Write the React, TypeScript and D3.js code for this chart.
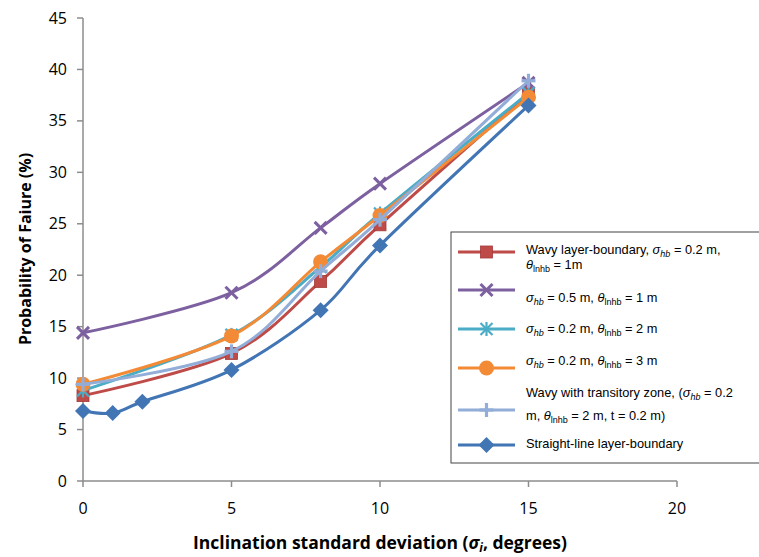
import React from "react";
import * as d3 from "d3";

const W = 759, H = 557;
const xTicks = [0, 5, 10, 15, 20];
const yTicks = [0, 5, 10, 15, 20, 25, 30, 35, 40, 45];

const xMain = [0, 5, 8, 10, 15];
const redSquare = [8.3, 12.4, 19.4, 24.9, 37.7];
const purpleX = [14.4, 18.3, 24.6, 28.9, 38.7];
const tealStar = [8.8, 14.2, 20.8, 26.0, 37.7];
const orangeCircle = [9.4, 14.1, 21.3, 25.8, 37.3];
const lightPlus = [9.4, 12.6, 20.4, 25.4, 38.9];
const xStraight = [0, 1, 2, 5, 8, 10, 15];
const blueDiamond = [6.8, 6.6, 7.7, 10.8, 16.6, 22.9, 36.5];

type S = { xs: number[]; ys: number[]; color: string; marker: string };
const series: S[] = [
  { xs: xMain, ys: redSquare, color: "#BE4B48", marker: "square" },
  { xs: xMain, ys: purpleX, color: "#7D60A0", marker: "x" },
  { xs: xMain, ys: tealStar, color: "#4BACC6", marker: "star" },
  { xs: xMain, ys: orangeCircle, color: "#F38A36", marker: "circle" },
  { xs: xMain, ys: lightPlus, color: "#92ADD8", marker: "plus" },
  { xs: xStraight, ys: blueDiamond, color: "#4275B4", marker: "diamond" },
];

const x = d3.scaleLinear().domain([0, 20]).range([83, 677]);
const y = d3.scaleLinear().domain([0, 45]).range([481, 18]);

function Marker({ type, cx, cy, color }: { type: string; cx: number; cy: number; color: string }) {
  switch (type) {
    case "square":
      return <rect x={cx - 6} y={cy - 6} width={12} height={12} fill={color} stroke="#A33A37" strokeWidth={0.8} />;
    case "x":
      return (
        <g stroke={color} strokeWidth={3}>
          <line x1={cx - 6} y1={cy - 6} x2={cx + 6} y2={cy + 6} />
          <line x1={cx - 6} y1={cy + 6} x2={cx + 6} y2={cy - 6} />
        </g>
      );
    case "star":
      return (
        <g stroke={color} strokeWidth={2.2}>
          <line x1={cx - 6} y1={cy - 6} x2={cx + 6} y2={cy + 6} />
          <line x1={cx - 6} y1={cy + 6} x2={cx + 6} y2={cy - 6} />
          <line x1={cx} y1={cy - 7} x2={cx} y2={cy + 7} />
        </g>
      );
    case "circle":
      return <circle cx={cx} cy={cy} r={7.5} fill={color} />;
    case "plus":
      return (
        <g stroke={color} strokeWidth={3.2}>
          <line x1={cx - 7} y1={cy} x2={cx + 7} y2={cy} />
          <line x1={cx} y1={cy - 7} x2={cx} y2={cy + 7} />
        </g>
      );
    case "diamond":
      return <path d={`M${cx},${cy - 8}L${cx + 8},${cy}L${cx},${cy + 8}L${cx - 8},${cy}Z`} fill={color} />;
  }
  return null;
}

const line = d3
  .line<[number, number]>()
  .x((d) => x(d[0]))
  .y((d) => y(d[1]))
  .curve(d3.curveCatmullRom.alpha(0));

const legendFont = "'Liberation Sans', Arial, sans-serif";

function Sig() {
  return (
    <>
      <tspan fontStyle="italic">σ</tspan>
      <tspan fontStyle="italic" fontSize={9} dy={3}>hb</tspan>
      <tspan dy={-3}> = </tspan>
    </>
  );
}
function Th() {
  return (
    <>
      <tspan fontStyle="italic">θ</tspan>
      <tspan fontSize={9} dy={3}>lnhb</tspan>
      <tspan dy={-3}> = </tspan>
    </>
  );
}

export default function App() {
  const legendRows = [
    { my: 252, color: series[0].color, marker: "square" },
    { my: 290, color: series[1].color, marker: "x" },
    { my: 329, color: series[2].color, marker: "star" },
    { my: 368, color: series[3].color, marker: "circle" },
    { my: 410, color: series[4].color, marker: "plus" },
    { my: 445, color: series[5].color, marker: "diamond" },
  ];
  const tx = 526;
  return (
    <svg width={W} height={H} style={{ position: "absolute", left: 0, top: 0, background: "#fff" }}>
      <rect width={W} height={H} fill="#fff" />
      {/* axes */}
      <g stroke="#8C8C8C" strokeWidth={1.5}>
        <line x1={x(0)} y1={y(45)} x2={x(0)} y2={y(0)} />
        <line x1={x(0)} y1={y(0)} x2={x(20)} y2={y(0)} />
        {yTicks.map((t) => (
          <line key={"yt" + t} x1={x(0) - 6} x2={x(0)} y1={y(t)} y2={y(t)} />
        ))}
        {xTicks.map((t) => (
          <line key={"xt" + t} x1={x(t)} x2={x(t)} y1={y(0)} y2={y(0) + 6} />
        ))}
      </g>
      <g fontFamily="'Open Sans', sans-serif" fontSize={16} fill="#000">
        {yTicks.map((t) => (
          <text key={"yl" + t} x={67} y={y(t)} dy="0.35em" textAnchor="end">{t}</text>
        ))}
        {xTicks.map((t) => (
          <text key={"xl" + t} x={x(t)} y={508} dy="0.35em" textAnchor="middle">{t}</text>
        ))}
      </g>
      <text x={380} y={543} dy="0.35em" textAnchor="middle" fontFamily="'Open Sans', sans-serif" fontWeight="bold" fontSize={17.5}>
        Inclination standard deviation (<tspan fontStyle="italic">σ</tspan>
        <tspan fontStyle="italic" fontSize={12} dy={3}>i</tspan>
        <tspan dy={-3}>, degrees)</tspan>
      </text>
      <text
        transform="translate(25,249) rotate(-90)"
        dy="0.35em"
        textAnchor="middle"
        fontFamily="'Open Sans', sans-serif"
        fontWeight="bold"
        fontSize={16}
      >
        Probability of Faiure (%)
      </text>
      {/* series */}
      {series.map((s, i) => (
        <g key={"s" + i}>
          <path d={line(s.xs.map((v, j) => [v, s.ys[j]] as [number, number])) || ""} fill="none" stroke={s.color} strokeWidth={3} />
          {s.xs.map((v, j) => (
            <Marker key={j} type={s.marker} cx={x(v)} cy={y(s.ys[j])} color={s.color} />
          ))}
        </g>
      ))}
      {/* legend */}
      <rect x={451} y={232} width={320} height={231} fill="#fff" stroke="#444" strokeWidth={1} />
      {legendRows.map((r, i) => (
        <g key={"lg" + i}>
          <line x1={458} x2={515} y1={r.my} y2={r.my} stroke={r.color} strokeWidth={3} />
          <Marker type={r.marker} cx={486.5} cy={r.my} color={r.color} />
        </g>
      ))}
      <g fontFamily={legendFont} fontSize={12.8} fill="#000">
        <text x={tx} y={250} dy="0.35em">Wavy layer-boundary, <Sig />0.2 m,</text>
        <text x={tx} y={265} dy="0.35em"><Th />1m</text>
        <text x={tx} y={298} dy="0.35em"><Sig />0.5 m, <Th />1 m</text>
        <text x={tx} y={329} dy="0.35em"><Sig />0.2 m, <Th />2 m</text>
        <text x={tx} y={361} dy="0.35em"><Sig />0.2 m, <Th />3 m</text>
        <text x={tx} y={393} dy="0.35em">Wavy with transitory zone, (<Sig />0.2</text>
        <text x={tx} y={416} dy="0.35em">m, <Th />2 m, t = 0.2 m)</text>
        <text x={tx} y={444} dy="0.35em">Straight-line layer-boundary</text>
      </g>
    </svg>
  );
}
